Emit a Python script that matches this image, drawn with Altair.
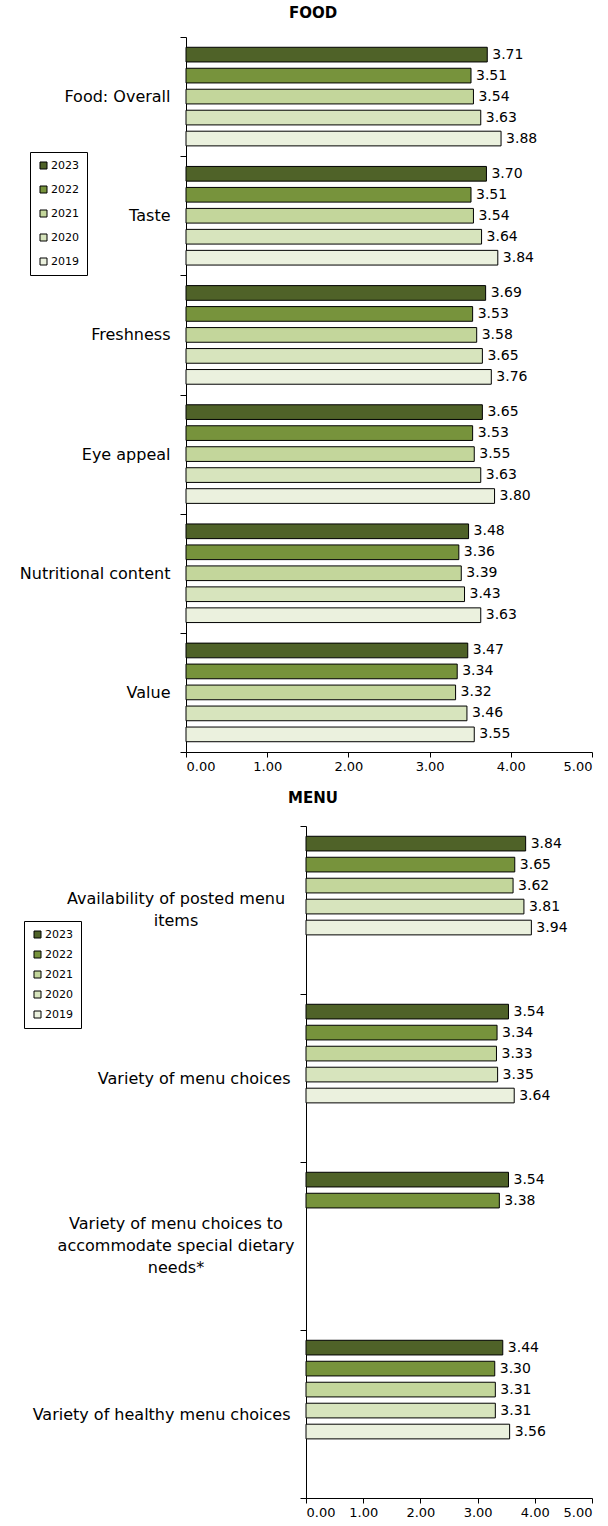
import altair as alt
import pandas as pd

FONT = "DejaVu Sans"

YEARS = ["2023", "2022", "2021", "2020", "2019"]
YEAR_COLORS = ["#4F6228", "#77933C", "#C3D69B", "#D7E4BD", "#EBF1DE"]

# Food ratings
FOOD_ITEMS = ["Food: Overall", "Taste", "Freshness", "Eye appeal",
              "Nutritional content", "Value"]
FOOD_2023 = [3.71, 3.70, 3.69, 3.65, 3.48, 3.47]
FOOD_2022 = [3.51, 3.51, 3.53, 3.53, 3.36, 3.34]
FOOD_2021 = [3.54, 3.54, 3.58, 3.55, 3.39, 3.32]
FOOD_2020 = [3.63, 3.64, 3.65, 3.63, 3.43, 3.46]
FOOD_2019 = [3.88, 3.84, 3.76, 3.80, 3.63, 3.55]

# Menu ratings ("|" marks a line break in a wrapped, centred category name)
MENU_ITEMS = ["Availability of posted menu|items",
              "Variety of menu choices",
              "Variety of menu choices to|accommodate special dietary|needs*",
              "Variety of healthy menu choices"]
MENU_2023 = [3.84, 3.54, 3.54, 3.44]
MENU_2022 = [3.65, 3.34, 3.38, 3.30]
MENU_2021 = [3.62, 3.33, None, 3.31]
MENU_2020 = [3.81, 3.35, None, 3.31]
MENU_2019 = [3.94, 3.64, None, 3.56]

TICKS = [0, 1, 2, 3, 4, 5]
PANEL_WIDTH = 406
LINE_HEIGHT = 22


def long_table(items, series):
    rows = []
    for year, values in zip(YEARS, series):
        for item, v in zip(items, values):
            if v is not None:
                rows.append({"item": item, "year": year, "score": v})
    return pd.DataFrame(rows)


def panel(table, items, title, height, inset, title_offset,
          legend_x, legend_y, legend_gap):
    # the value axis starts `inset` pixels inside the panel; the category axis follows it
    y = alt.Y(
        "item:N", sort=items, title=None,
        scale=alt.Scale(paddingInner=0, paddingOuter=0),
        axis=alt.Axis(
            tickBand="extent", tickSize=6, tickColor="black", domainColor="black",
            labelFont=FONT, labelFontSize=16, labelColor="black",
            labelPadding=10, labelAlign="right",
            labelExpr="indexof(datum.label, '|') >= 0 ? '' : datum.label",
            labelLimit=400, labelBaseline="middle", grid=False,
            offset=-inset,
        ),
    )
    y_off = alt.YOffset(
        "year:N", sort=YEARS,
        scale=alt.Scale(domain=YEARS, paddingInner=0.3, paddingOuter=0.49),
    )
    x = alt.X(
        "score:Q", title=None,
        scale=alt.Scale(domain=[0, 5], nice=False, range=[inset, PANEL_WIDTH]),
        axis=alt.Axis(
            values=TICKS, format=".2f", tickSize=5, tickColor="black",
            domainColor="black", labelFont=FONT, labelFontSize=13,
            labelColor="black", grid=False, labelPadding=3,
        ),
    )
    color = alt.Color(
        "year:N",
        scale=alt.Scale(domain=YEARS, range=YEAR_COLORS),
        legend=alt.Legend(
            title=None, orient="none", legendX=legend_x, legendY=legend_y,
            direction="vertical", strokeColor="black", fillColor="white",
            padding=8, symbolType="square", symbolSize=49,
            symbolStrokeColor="black", symbolStrokeWidth=1,
            labelFont=FONT, labelFontSize=11, labelColor="black",
            labelOffset=2, rowPadding=legend_gap,
        ),
    )

    base = alt.Chart(table)
    bars = base.mark_bar(stroke="black", strokeWidth=1).encode(
        x=x, y=y, yOffset=y_off, color=color
    )
    values = base.mark_text(
        align="left", baseline="middle", dx=5, font=FONT, fontSize=14, color="black"
    ).encode(x=x, y=y, yOffset=y_off, text=alt.Text("score:Q", format=".2f"))
    layers = [bars, values]

    # wrapped category names, each line centred and the block centred on its band
    wrapped = [name for name in items if "|" in name]
    for n_lines in sorted({name.count("|") + 1 for name in wrapped}):
        group = [name for name in wrapped if name.count("|") + 1 == n_lines]
        layers.append(
            alt.Chart(pd.DataFrame({"item": group})).mark_text(
                align="center", baseline="middle", lineBreak="|",
                lineHeight=LINE_HEIGHT, dy=-(n_lines - 1) * LINE_HEIGHT / 2,
                font=FONT, fontSize=16, color="black",
            ).encode(y=alt.Y("item:N", sort=items), text="item:N",
                     x=alt.value(inset - 130))
        )

    return alt.layer(*layers).properties(
        width=PANEL_WIDTH, height=height,
        title=alt.Title(title, font=FONT, fontSize=15, fontWeight="bold",
                        color="black", anchor="middle", dx=-76,
                        offset=title_offset),
    )


food = panel(
    long_table(FOOD_ITEMS, [FOOD_2023, FOOD_2022, FOOD_2021, FOOD_2020, FOOD_2019]),
    FOOD_ITEMS, "FOOD", 715, 0, 8, -156, 115, 12,
)
menu = panel(
    long_table(MENU_ITEMS, [MENU_2023, MENU_2022, MENU_2021, MENU_2020, MENU_2019]),
    MENU_ITEMS, "MENU", 672, 120, 12, -162, 95, 8,
)

chart = alt.vconcat(food, menu, spacing=18).resolve_scale(
    x="independent", y="independent", color="independent"
).resolve_legend(color="independent").properties(
    padding={"left": 19, "top": 6, "right": 0, "bottom": 0},
    background="white",
).configure_view(strokeWidth=0)

chart.save("out.html", embed_options={"renderer": "svg", "actions": False})
